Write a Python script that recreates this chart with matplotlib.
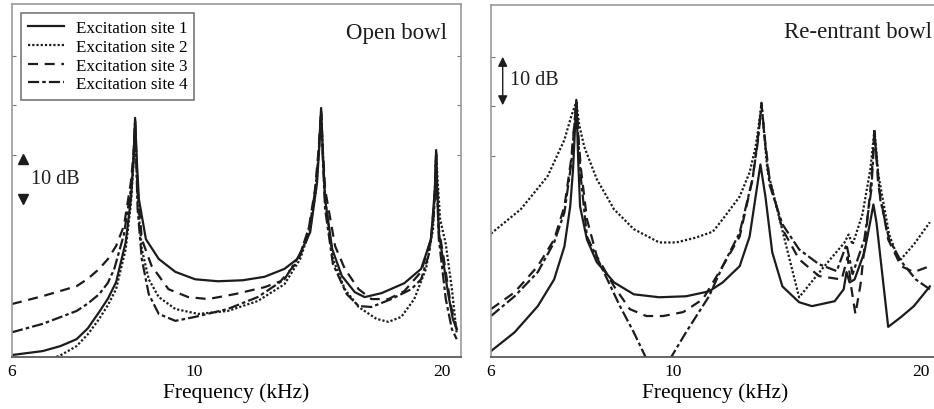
import matplotlib
matplotlib.use('Agg')
import matplotlib.pyplot as plt
from matplotlib.ticker import FixedLocator, FixedFormatter, NullLocator

plt.rcParams['font.family'] = ['Liberation Serif', 'DejaVu Serif']

# ---- Open bowl: frequency (kHz) / level (dB) per excitation site ----
open_f_site1 = [6.00, 6.54, 6.87, 7.19, 7.42, 7.66, 7.85, 8.03, 8.25, 8.37, 8.43, 8.47, 8.51, 8.56, 8.73,
                9.05, 9.48, 10.02, 10.68, 11.45, 12.17, 12.87, 13.34, 13.83, 14.10, 14.19, 14.26, 14.33,
                14.42, 14.71, 15.11, 15.67, 16.11, 16.89, 18.00, 18.87, 19.40, 19.61, 19.68, 19.74, 19.83,
                20.34, 20.62, 20.85]
open_db_site1 = [-60.4, -59.6, -58.6, -57.2, -55.0, -51.7, -49.0, -45.7, -37.6, -28.9, -21.5, -12.5, -21.0,
                 -28.9, -37.0, -41.0, -43.6, -45.1, -45.5, -45.3, -44.6, -43.0, -41.0, -35.6, -25.5, -18.0,
                 -10.5, -19.5, -28.9, -39.0, -44.4, -47.7, -48.7, -47.9, -45.9, -43.0, -37.0, -26.9, -19.0,
                 -27.0, -35.6, -47.7, -53.1, -55.2]

open_f_site2 = [6.58, 6.90, 7.19, 7.42, 7.66, 7.85, 8.03, 8.25, 8.37, 8.43, 8.47, 8.50, 8.53, 8.63, 8.80,
                9.05, 9.48, 10.11, 10.98, 11.94, 12.87, 13.45, 13.83, 14.06, 14.17, 14.26, 14.33, 14.42,
                14.74, 15.24, 15.84, 16.65, 17.22, 17.85, 18.51, 19.13, 19.51, 19.61, 19.68, 19.76, 19.90,
                20.22, 20.57, 20.85]
open_db_site2 = [-61.8, -60.3, -58.6, -56.2, -53.1, -50.3, -47.1, -39.0, -29.9, -22.0, -13.1, -21.0, -28.9,
                 -39.0, -45.1, -48.7, -51.1, -52.1, -51.5, -49.5, -46.1, -41.0, -34.9, -26.9, -19.0, -11.3,
                 -19.5, -28.9, -41.0, -47.1, -50.7, -53.1, -53.7, -52.7, -49.1, -43.0, -34.9, -27.0, -19.4,
                 -25.0, -32.9, -38.0, -47.1, -56.2]

open_f_site3 = [6.00, 6.54, 7.19, 7.42, 7.66, 7.85, 8.03, 8.21, 8.37, 8.43, 8.47, 8.50, 8.53, 8.63, 8.87,
                9.30, 9.83, 10.39, 11.20, 12.17, 12.73, 13.34, 13.71, 14.02, 14.16, 14.26, 14.33, 14.42,
                14.83, 15.24, 15.84, 16.42, 17.22, 18.00, 18.87, 19.40, 19.61, 19.68, 19.74, 19.83, 20.11,
                20.51, 20.85]
open_db_site3 = [-50.1, -48.5, -46.5, -45.0, -43.0, -41.0, -38.4, -34.3, -25.5, -20.0, -13.7, -20.0, -26.9,
                 -37.0, -42.4, -47.1, -48.7, -49.1, -48.1, -46.7, -45.5, -41.6, -37.0, -26.9, -19.0, -11.1,
                 -19.0, -26.9, -38.4, -43.0, -47.1, -49.1, -49.1, -47.5, -43.6, -37.0, -27.9, -19.8, -27.0,
                 -34.9, -41.0, -50.5, -55.2]

open_f_site4 = [6.00, 6.54, 7.19, 7.42, 7.66, 7.85, 7.99, 8.21, 8.37, 8.43, 8.47, 8.50, 8.53, 8.63, 8.80,
                9.05, 9.48, 10.02, 10.98, 11.94, 12.87, 13.45, 13.83, 14.06, 14.17, 14.26, 14.33, 14.42,
                14.74, 15.32, 15.84, 16.42, 17.36, 18.36, 18.87, 19.29, 19.56, 19.63, 19.68, 19.74, 19.83,
                20.22, 20.57, 20.85]
open_db_site4 = [-55.8, -54.1, -51.5, -50.0, -48.1, -45.8, -43.0, -36.0, -26.9, -21.0, -13.3, -22.0, -30.9,
                 -41.0, -48.1, -52.1, -53.5, -52.7, -51.1, -48.7, -45.1, -40.0, -33.9, -25.9, -19.0, -11.7,
                 -21.0, -30.9, -42.0, -48.1, -50.5, -50.7, -49.1, -47.1, -45.1, -40.0, -31.9, -26.0, -19.8,
                 -28.0, -37.0, -49.1, -55.2, -57.2]

# ---- Re-entrant bowl ----
reent_f_site1 = [6.00, 6.41, 6.84, 7.16, 7.37, 7.49, 7.55, 7.62, 7.66, 7.70, 7.85, 8.07, 8.47, 8.95, 9.61,
                 10.36, 11.05, 11.48, 12.04, 12.38, 12.59, 12.76, 12.94, 13.19, 13.57, 14.22, 14.74, 15.71,
                 16.11, 16.24, 16.38, 16.61, 17.07, 17.36, 17.51, 17.66, 18.25, 18.92, 19.61, 20.51]
reent_db_site1 = [-59.6, -55.8, -50.5, -45.1, -38.4, -30.3, -22.8, -8.7, -21.0, -30.3, -37.0, -41.6, -45.7,
                  -48.1, -48.7, -48.5, -47.5, -45.7, -42.4, -36.4, -28.3, -21.8, -28.3, -39.6, -46.5, -49.7,
                  -50.5, -49.5, -47.1, -43.6, -45.7, -45.1, -39.6, -33.3, -29.9, -33.5, -54.7, -52.7, -50.5,
                  -46.5]

reent_f_site2 = [6.00, 6.52, 7.03, 7.37, 7.51, 7.62, 7.68, 7.79, 8.07, 8.47, 8.95, 9.61, 10.08, 10.66, 11.17,
                 11.48, 12.04, 12.38, 12.59, 12.70, 12.80, 12.90, 13.01, 13.75, 14.22, 15.16, 16.15, 16.33,
                 16.52, 16.98, 17.36, 17.47, 17.56, 17.65, 17.75, 18.30, 18.82, 19.61, 20.51]
reent_db_site2 = [-35.8, -30.9, -24.2, -16.8, -12.1, -9.1, -13.7, -18.2, -24.8, -30.9, -34.9, -37.6, -37.6,
                  -36.6, -35.4, -32.9, -28.3, -23.4, -18.2, -14.0, -9.3, -16.0, -22.8, -39.0, -48.7, -43.0,
                  -37.6, -36.0, -38.0, -31.9, -22.8, -18.5, -14.7, -19.0, -23.8, -36.0, -41.4, -38.0, -33.5]

reent_f_site3 = [6.00, 6.41, 6.84, 7.16, 7.37, 7.51, 7.62, 7.67, 7.72, 7.85, 8.07, 8.47, 8.85, 9.27, 9.72,
                 10.28, 10.86, 11.48, 12.04, 12.48, 12.66, 12.80, 12.93, 13.09, 13.57, 14.22, 15.03, 16.02,
                 16.29, 16.47, 16.65, 16.89, 17.17, 17.41, 17.49, 17.56, 17.65, 17.75, 18.25, 18.92, 19.61,
                 20.51]
reent_db_site3 = [-51.1, -47.7, -42.4, -37.0, -30.3, -20.8, -9.3, -17.0, -22.8, -32.9, -40.4, -46.5, -51.1,
                  -52.5, -52.5, -51.7, -49.1, -42.4, -36.4, -24.8, -17.0, -9.7, -17.0, -24.8, -34.9, -41.0,
                  -44.4, -45.1, -40.6, -47.1, -52.1, -46.1, -34.9, -24.8, -20.0, -15.2, -20.0, -25.9, -37.0,
                  -42.4, -43.6, -42.4]

reent_f_site4 = [6.00, 6.41, 6.84, 7.16, 7.37, 7.51, 7.62, 7.67, 7.72, 7.85, 8.23, 8.61, 8.95, 9.25, 9.59,
                 9.94, 10.36, 10.74, 11.05, 11.48, 12.04, 12.48, 12.66, 12.80, 12.93, 13.09, 13.57, 14.22,
                 15.03, 15.80, 16.24, 16.52, 17.07, 17.41, 17.49, 17.56, 17.68, 17.85, 18.30, 18.92, 19.72,
                 20.51]
reent_db_site4 = [-52.5, -48.5, -43.6, -37.6, -31.5, -21.8, -9.1, -18.0, -24.8, -36.4, -43.6, -50.5, -55.8,
                  -60.8, -65.9, -60.8, -55.8, -51.7, -48.5, -42.4, -35.6, -24.8, -17.5, -9.7, -17.5, -25.9,
                  -33.9, -39.0, -42.0, -43.4, -38.0, -44.0, -37.0, -26.9, -21.0, -15.4, -21.0, -28.9, -37.0,
                  -41.4, -45.1, -47.1]

site_labels = ['Excitation site 1', 'Excitation site 2', 'Excitation site 3', 'Excitation site 4']
x_ticks = [6, 10, 20]
x_tick_labels = ['6', '10', '20']
y_ticks = [-20, -10, 0]

line_styles = ['-', (0, (1.0, 0.9)), (0, (4.5, 3.0)), (0, (5.0, 1.4, 1.6, 1.4))]
ink = '#1c1c1c'

fig = plt.figure(figsize=(9.34, 4.10), dpi=100)
ax_open = fig.add_axes([12 / 934, 52 / 410, 449 / 934, 353 / 410])
ax_reent = fig.add_axes([491 / 934, 52 / 410, 449 / 934, 352 / 410])

open_data = [(open_f_site1, open_db_site1), (open_f_site2, open_db_site2),
             (open_f_site3, open_db_site3), (open_f_site4, open_db_site4)]
reent_data = [(reent_f_site1, reent_db_site1), (reent_f_site2, reent_db_site2),
              (reent_f_site3, reent_db_site3), (reent_f_site4, reent_db_site4)]

for ax, data in [(ax_open, open_data), (ax_reent, reent_data)]:
    for (f, db), ls, lab in zip(data, line_styles, site_labels):
        ax.plot(f, db, color=ink, linestyle=ls, linewidth=1.6, label=lab)
    ax.set_xscale('log')
    ax.set_xlim(6, 21.1)
    ax.set_ylim(-60.8, 10.5)
    ax.xaxis.set_major_locator(FixedLocator(x_ticks))
    ax.xaxis.set_major_formatter(FixedFormatter(x_tick_labels))
    ax.xaxis.set_minor_locator(NullLocator())
    ax.set_yticks(y_ticks)
    ax.set_yticklabels([])
    ax.tick_params(axis='x', length=0, pad=4, labelsize=12.5)
    ax.tick_params(axis='y', direction='in', length=3, width=0.8, color='#777777',
                   left=True, right=True)
    for side in ['left', 'right', 'top']:
        ax.spines[side].set_color('#9a9a9a')
        ax.spines[side].set_linewidth(1.2)
    ax.spines['bottom'].set_color('#5a5a5a')
    ax.spines['bottom'].set_linewidth(1.3)
    ax.set_xlabel('Frequency (kHz)', fontsize=15.5, labelpad=3)

ax_open.text(0.968, 0.92, 'Open bowl', transform=ax_open.transAxes, fontsize=16.5,
             ha='right', va='center', color=ink)
ax_reent.text(0.983, 0.925, 'Re-entrant bowl', transform=ax_reent.transAxes, fontsize=16.5,
              ha='right', va='center', color=ink)

# 10 dB scale markers
ax_open.plot([6.19], [-20.8], marker='^', color=ink, markersize=7, linestyle='none')
ax_open.plot([6.19], [-28.9], marker='v', color=ink, markersize=7, linestyle='none')
ax_open.text(6.33, -24.8, '10 dB', fontsize=14.5, ha='left', va='center', color=ink)

ax_reent.annotate('', xy=(6.20, 0), xytext=(6.20, -9.8),
                  arrowprops=dict(arrowstyle='<|-|>', color=ink, lw=1.0,
                                  mutation_scale=14, shrinkA=0, shrinkB=0))
ax_reent.text(6.32, -4.6, '10 dB', fontsize=14.5, ha='left', va='center', color=ink)

leg = ax_open.legend(loc='upper left', bbox_to_anchor=(0, 1), borderaxespad=0.5,
                     fontsize=12.3, frameon=True, fancybox=False, handlelength=2.1,
                     handletextpad=0.7, labelspacing=0.17, borderpad=0.42)
leg.get_frame().set_edgecolor('#555555')
leg.get_frame().set_linewidth(1.2)

fig.savefig('out.png', dpi=100)
